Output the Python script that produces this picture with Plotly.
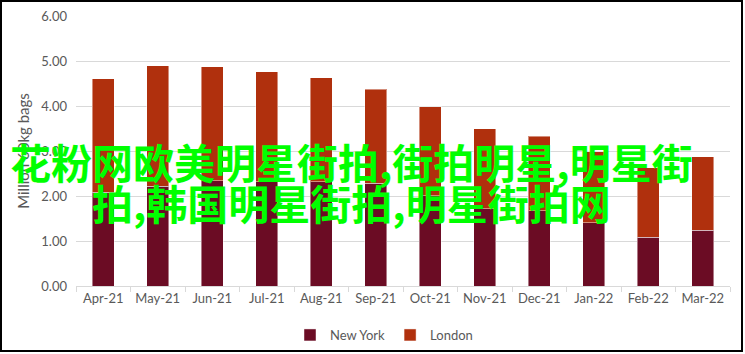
import plotly.graph_objects as go

months = ["Apr-21", "May-21", "Jun-21", "Jul-21", "Aug-21", "Sep-21",
          "Oct-21", "Nov-21", "Dec-21", "Jan-22", "Feb-22", "Mar-22"]
new_york = [2.08, 2.22, 2.34, 2.32, 2.32, 2.28, 2.01, 1.72, 1.67, 1.41, 1.08, 1.24]
london = [2.53, 2.67, 2.53, 2.44, 2.31, 2.09, 1.97, 1.78, 1.66, 1.57, 1.55, 1.63]
y_ticks = [0, 1, 2, 3, 4, 5, 6]
watermark_lines = ["花粉网欧美明星街拍,街拍明星,明星街", "拍,韩国明星街拍,明星街拍网"]

W, H = 745, 354
L, R, T, B = 76, 730, 16, 286

def px(x):
    return (x - L) / (R - L)

def py(y):
    return (B - y) / (B - T)

fig = go.Figure()
fig.add_trace(go.Bar(x=months, y=new_york, name="New York",
                     marker=dict(color="#6b0c24", line=dict(color="rgba(255,255,255,0.45)", width=1))))
fig.add_trace(go.Bar(x=months, y=london, name="London",
                     marker=dict(color="#b0300d", line=dict(color="rgba(255,255,255,0.45)", width=1))))

fig.update_layout(
    width=W, height=H,
    margin=dict(l=L, r=W - R, t=T, b=H - B, autoexpand=False),
    barmode="stack", bargap=0.595,
    plot_bgcolor="white", paper_bgcolor="white",
    font=dict(family="Lato", size=13, color="#595959"),
    legend=dict(orientation="h", traceorder="normal", x=px(384), xanchor="center",
                y=py(335), yanchor="middle",
                font=dict(size=13, color="#595959"), itemwidth=30),
    xaxis=dict(showline=True, linecolor="#d9d9d9", linewidth=1, ticks="outside",
               tickson="boundaries", ticklen=5, tickcolor="#d9d9d9", showgrid=False,
               automargin=False),
    yaxis=dict(range=[0, 6], tickvals=y_ticks, tickformat=".2f", gridcolor="#d9d9d9",
               showline=False, zeroline=False, ticklabelstandoff=8, automargin=False,
               title=dict(text="Million 60kg bags", font=dict(size=15, color="#595959"), standoff=8)),
    shapes=[dict(type="rect", xref="paper", yref="paper",
                 x0=px(1), x1=px(742), y0=py(351), y1=py(1),
                 line=dict(color="black", width=2), layer="above")],
)

for txt, yc in zip(watermark_lines, [161, 202]):
    fig.add_annotation(text=txt, xref="paper", yref="paper", x=px(351), y=py(yc),
                       xanchor="center", yanchor="middle", showarrow=False,
                       font=dict(family="Noto Sans CJK SC", size=41, color="#00ff00", weight="bold"))

fig.write_html("out.html")
